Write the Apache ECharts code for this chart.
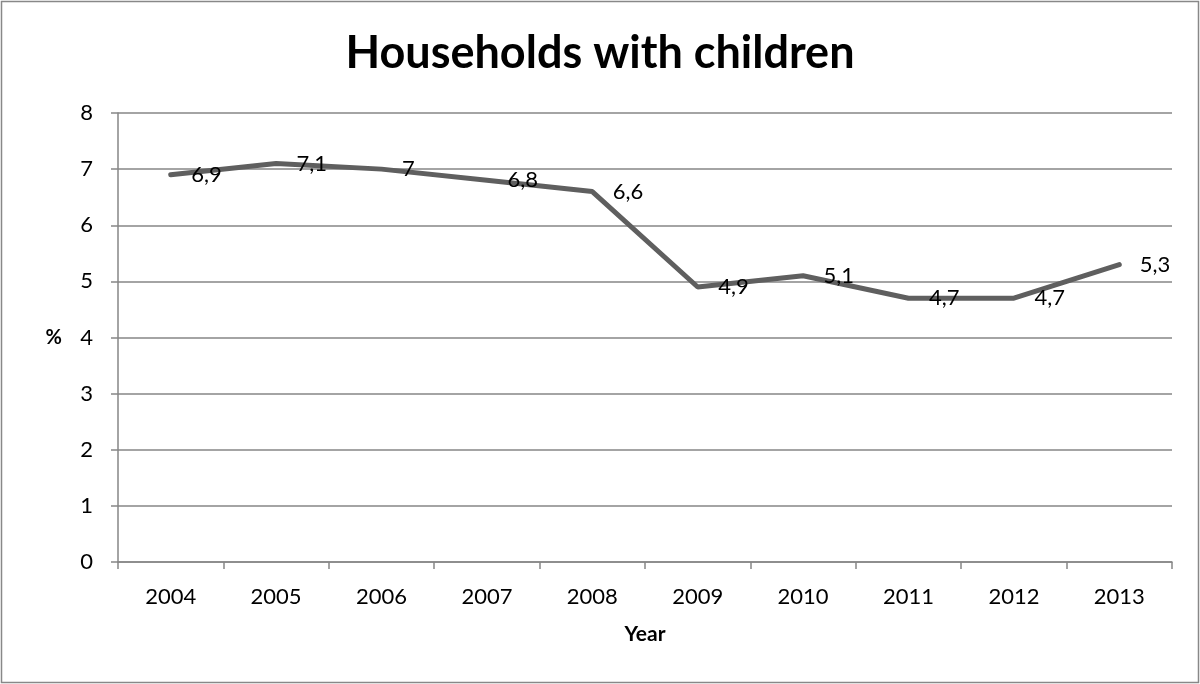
<!DOCTYPE html>
<html>
<head>
<meta charset="utf-8">
<script src="https://cdn.jsdelivr.net/npm/echarts@6/dist/echarts.min.js"></script>
<style>
  html, body { margin: 0; padding: 0; background: #fff; }
  #chart { width: 1200px; height: 684px; }
</style>
</head>
<body>
<div id="chart"></div>
<script>
// 数据
const years = ['2004', '2005', '2006', '2007', '2008', '2009', '2010', '2011', '2012', '2013']
const shares = [6.9, 7.1, 7.0, 6.8, 6.6, 4.9, 5.1, 4.7, 4.7, 5.3]

const font = 'Lato, "Open Sans", sans-serif'
const gridColor = '#868686'

const chart = echarts.init(document.getElementById('chart'))
chart.setOption({
  animation: false,
  title: {
    text: 'Households with children',
    left: 'center',
    top: 26,
    textStyle: { fontFamily: font, fontSize: 45, fontWeight: 'bold', color: '#000' },
  },
  graphic: [
    {
      type: 'rect',
      shape: { x: 1.5, y: 1.5, width: 1197, height: 681 },
      style: { fill: 'none', stroke: '#888', lineWidth: 1.5 },
    },
  ],
  grid: { left: 118, right: 28, top: 113, bottom: 122 },
  xAxis: {
    type: 'category',
    data: years,
    boundaryGap: true,
    name: 'Year',
    nameLocation: 'middle',
    nameGap: 62,
    nameTextStyle: { fontFamily: font, fontSize: 21, fontWeight: 'bold', color: '#000' },
    axisLine: { lineStyle: { color: gridColor, width: 1.5 } },
    axisTick: { show: true, length: 7, alignWithLabel: false, lineStyle: { color: gridColor, width: 1.5 } },
    axisLabel: { fontFamily: font, fontSize: 22, color: '#000', margin: 24 },
  },
  yAxis: {
    type: 'value',
    min: 0,
    max: 8,
    interval: 1,
    name: '%',
    nameLocation: 'middle',
    nameRotate: 0,
    nameGap: 56,
    nameTextStyle: { fontFamily: font, fontSize: 20, fontWeight: 'bold', color: '#000' },
    axisLine: { show: true, lineStyle: { color: gridColor, width: 1.5 } },
    axisTick: { show: true, length: 7, lineStyle: { color: gridColor, width: 1.5 } },
    axisLabel: { fontFamily: font, fontSize: 22, color: '#000', margin: 25 },
    splitLine: { lineStyle: { color: gridColor, width: 1.5 } },
  },
  series: [
    {
      type: 'line',
      data: shares,
      symbol: 'circle',
      symbolSize: 1,
      showSymbol: true,
      itemStyle: { color: '#5f5f5f' },
      lineStyle: { color: '#5f5f5f', width: 5, cap: 'round' },
      label: {
        show: true,
        position: 'right',
        distance: 20,
        offset: [0, 4],
        fontFamily: font,
        fontSize: 22,
        color: '#000',
        formatter: (p) => String(p.value).replace('.', ','),
      },
      labelLayout: { hideOverlap: false },
    },
  ],
})
</script>
</body>
</html>
